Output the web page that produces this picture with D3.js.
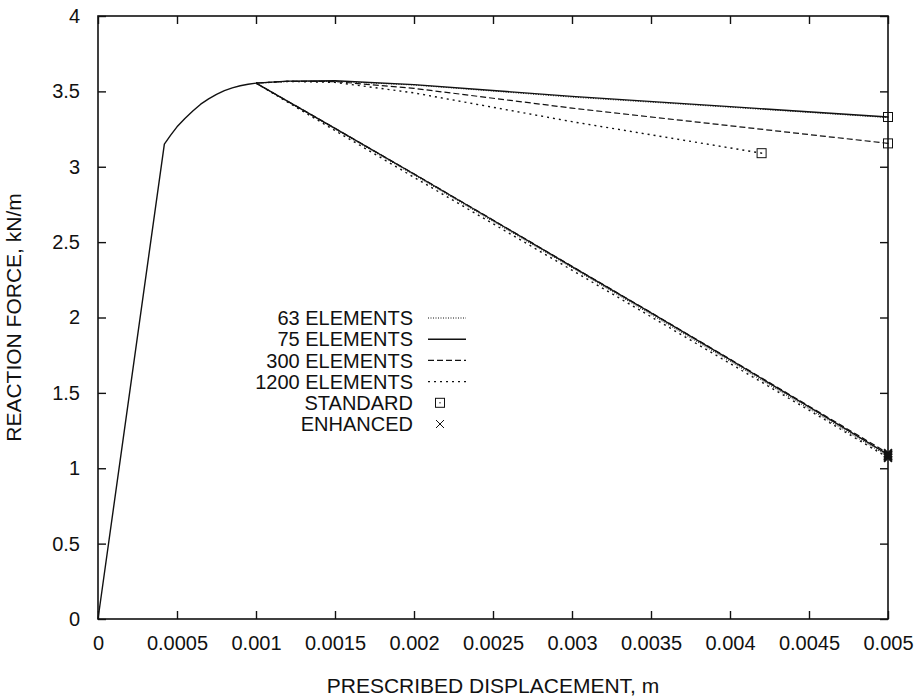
<!DOCTYPE html>
<html>
<head>
<meta charset="utf-8">
<script src="https://cdn.jsdelivr.net/npm/d3@7"></script>
<style>
  body { margin: 0; background: #fff; }
  text { font-family: "Liberation Sans", Arial, sans-serif; fill: #111; }
</style>
</head>
<body>
<div id="chart"></div>
<script>
// shared elastic / hardening part
var xCommon = [0, 0.00042, 0.00046, 0.0005, 0.00055, 0.0006, 0.00065, 0.0007, 0.00075, 0.0008, 0.00085, 0.0009, 0.00095, 0.001];
var yCommon = [0, 3.15, 3.21, 3.265, 3.32, 3.37, 3.415, 3.45, 3.48, 3.505, 3.523, 3.537, 3.547, 3.555];

// standard formulation (no softening)
var xStd = [0.001, 0.0012, 0.0015, 0.002, 0.003, 0.004, 0.005];
var std63 = [3.555, 3.566, 3.567, 3.542, 3.462, 3.395, 3.326];
var std75 = [3.555, 3.568, 3.570, 3.545, 3.467, 3.399, 3.33];
var std300 = [3.555, 3.567, 3.565, 3.52, 3.389, 3.272, 3.155];
var xStd1200 = [0.001, 0.0012, 0.0015, 0.002, 0.003, 0.004, 0.0042];
var std1200 = [3.555, 3.566, 3.56, 3.49, 3.299, 3.125, 3.09];

// enhanced formulation (softening)
var xEnh = [0.001, 0.0015, 0.002, 0.0025, 0.003, 0.0035, 0.004, 0.0045, 0.005];
var enh63 = [3.555, 3.25, 2.945, 2.637, 2.33, 2.02, 1.71, 1.395, 1.08];
var enh75 = [3.555, 3.255, 2.952, 2.645, 2.338, 2.03, 1.72, 1.407, 1.09];
var enh300 = [3.555, 3.256, 2.953, 2.647, 2.34, 2.033, 1.724, 1.412, 1.10];
var enh1200 = [3.555, 3.24, 2.93, 2.622, 2.314, 2.005, 1.695, 1.385, 1.07];

var xTicks = [0, 0.0005, 0.001, 0.0015, 0.002, 0.0025, 0.003, 0.0035, 0.004, 0.0045, 0.005];
var yTicks = [0, 0.5, 1, 1.5, 2, 2.5, 3, 3.5, 4];

var legendLabels = ["63 ELEMENTS", "75 ELEMENTS", "300 ELEMENTS", "1200 ELEMENTS", "STANDARD", "ENHANCED"];

var margin = {top: 16, right: 29, bottom: 78, left: 98},
    width = 917 - margin.left - margin.right,
    height = 697 - margin.top - margin.bottom;

var svg = d3.select("#chart")
  .append("svg")
    .attr("width", 917)
    .attr("height", 697)
  .append("g")
    .attr("transform", "translate(" + margin.left + "," + margin.top + ")");

var x = d3.scaleLinear().domain([0, 0.005]).range([0, width]);
var y = d3.scaleLinear().domain([0, 4]).range([height, 0]);

function zip(xs, ys) { return xs.map(function(v, i) { return [v, ys[i]]; }); }

var styles = {
  "63": {dash: "1,1.5", w: 1},
  "75": {dash: null, w: 1.4},
  "300": {dash: "6,3", w: 1.2},
  "1200": {dash: "2,4", w: 1.4}
};

var series = [
  {mesh: "63", pts: zip(xStd, std63)},
  {mesh: "75", pts: zip(xStd, std75)},
  {mesh: "300", pts: zip(xStd, std300)},
  {mesh: "1200", pts: zip(xStd1200, std1200)},
  {mesh: "63", pts: zip(xEnh, enh63)},
  {mesh: "300", pts: zip(xEnh, enh300)},
  {mesh: "1200", pts: zip(xEnh, enh1200)},
  {mesh: "75", pts: zip(xEnh, enh75)},
  {mesh: "75", pts: zip(xCommon, yCommon)}
];

var line = d3.line().x(function(d) { return x(d[0]); }).y(function(d) { return y(d[1]); });

series.forEach(function(s) {
  svg.append("path")
    .datum(s.pts)
    .attr("fill", "none")
    .attr("stroke", "#111")
    .attr("stroke-width", styles[s.mesh].w)
    .attr("stroke-dasharray", styles[s.mesh].dash)
    .attr("stroke-linejoin", "round")
    .attr("d", line);
});

// end markers
var stdEnds = [[xStd[6], std75[6]], [xStd[6], std300[6]], [xStd1200[6], std1200[6]]];
var enhEnds = [[xEnh[8], enh63[8]], [xEnh[8], enh75[8]], [xEnh[8], enh300[8]], [xEnh[8], enh1200[8]]];

function square(g, cx, cy) {
  g.append("rect").attr("x", cx - 4.5).attr("y", cy - 4.5).attr("width", 9).attr("height", 9)
    .attr("fill", "none").attr("stroke", "#111").attr("stroke-width", 1);
  g.append("rect").attr("x", cx - 0.6).attr("y", cy - 0.6).attr("width", 1.2).attr("height", 1.2).attr("fill", "#111");
}
function cross(g, cx, cy, sw) {
  g.append("path")
    .attr("d", "M" + (cx - 4) + "," + (cy - 4) + "L" + (cx + 4) + "," + (cy + 4) +
               "M" + (cx - 4) + "," + (cy + 4) + "L" + (cx + 4) + "," + (cy - 4))
    .attr("stroke", "#111").attr("stroke-width", sw).attr("fill", "none");
}
stdEnds.forEach(function(p) { square(svg, x(p[0]), y(p[1])); });
enhEnds.forEach(function(p) { cross(svg, x(p[0]), y(p[1]), 2); });

// frame
svg.append("rect").attr("width", width).attr("height", height)
  .attr("fill", "none").attr("stroke", "#111").attr("stroke-width", 1.6);

// axes: ticks pointing inward, mirrored
function styleAxis(g) { g.select(".domain").remove(); g.selectAll("line").attr("stroke", "#111").attr("stroke-width", 1.4); }

svg.append("g").attr("transform", "translate(0," + height + ")")
  .call(d3.axisBottom(x).tickValues(xTicks).tickSize(-8).tickPadding(17).tickFormat(d3.format("")))
  .call(styleAxis)
  .selectAll("text").style("font-size", "20px").attr("font-family", null);
svg.append("g")
  .call(d3.axisTop(x).tickValues(xTicks).tickSize(-8).tickFormat(""))
  .call(styleAxis);
svg.append("g")
  .call(d3.axisLeft(y).tickValues(yTicks).tickSize(-8).tickPadding(18).tickFormat(d3.format("")))
  .call(styleAxis)
  .selectAll("text").style("font-size", "20px").attr("font-family", null);
svg.append("g").attr("transform", "translate(" + width + ",0)")
  .call(d3.axisRight(y).tickValues(yTicks).tickSize(-8).tickFormat(""))
  .call(styleAxis);

// axis titles
svg.append("text")
  .attr("x", width / 2).attr("y", height + 74)
  .style("text-anchor", "middle").style("font-size", "21px")
  .text("PRESCRIBED DISPLACEMENT, m");
svg.append("text")
  .attr("transform", "rotate(-90)")
  .attr("x", -height / 2).attr("y", -77)
  .style("text-anchor", "middle").style("font-size", "21px")
  .text("REACTION FORCE, kN/m");

// legend
var legend = svg.append("g").attr("transform", "translate(" + (413 - margin.left) + "," + (318 - margin.top) + ")");
var legendMesh = ["63", "75", "300", "1200"];
legendLabels.forEach(function(lab, i) {
  var ly = i * 21.2;
  legend.append("text").attr("x", 0).attr("y", ly).attr("dy", "0.36em")
    .style("text-anchor", "end").style("font-size", "20px").text(lab);
  if (i < 4) {
    legend.append("line").attr("x1", 15).attr("x2", 53).attr("y1", ly).attr("y2", ly)
      .attr("stroke", "#111").attr("stroke-width", styles[legendMesh[i]].w)
      .attr("stroke-dasharray", styles[legendMesh[i]].dash);
  } else if (i === 4) {
    square(legend, 27, ly);
  } else {
    cross(legend, 27, ly, 1);
  }
});
</script>
</body>
</html>
